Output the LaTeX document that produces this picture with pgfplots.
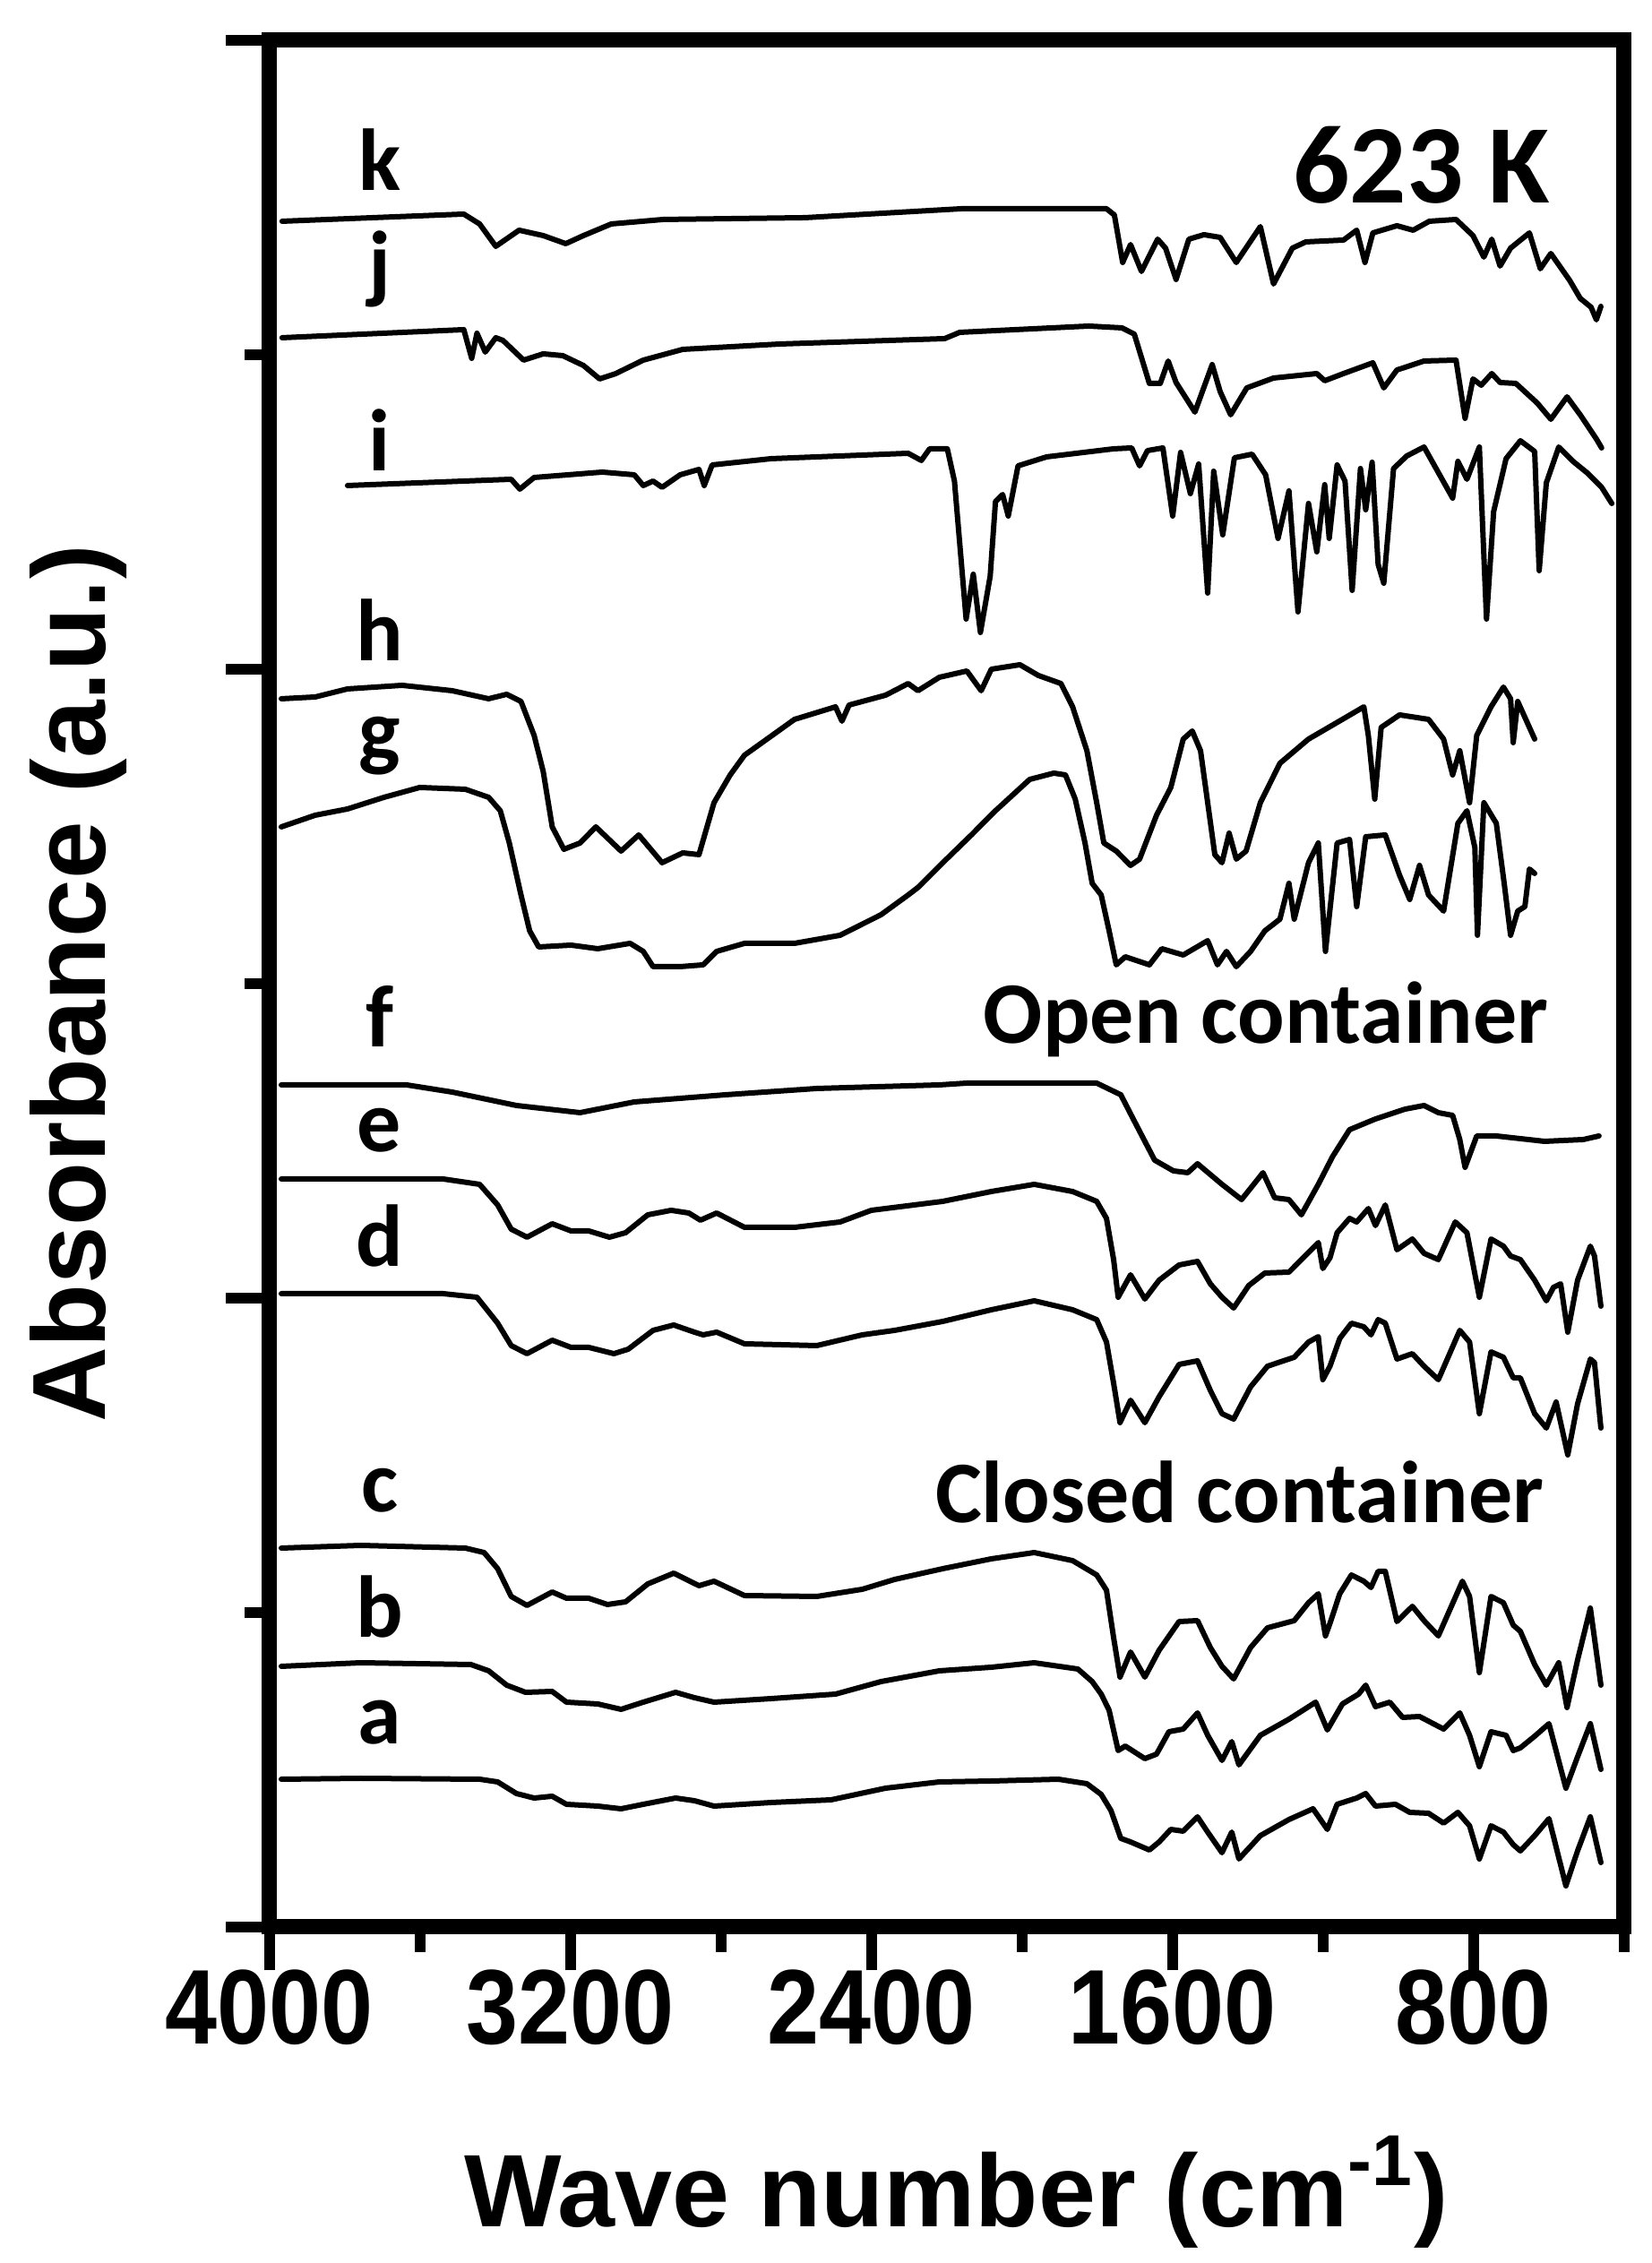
\documentclass[border=0pt]{standalone}
\usepackage{pgfplots}
\pgfplotsset{compat=1.18}
\usepackage{fontspec}
\setmainfont{Liberation Sans}
\newfontfamily\calfont{Carlito}
\newfontfamily\tickfont[FakeStretch=0.88]{Liberation Sans}
\tikzset{spec/.style={black, solid, line width=1.2pt, line join=round, line cap=round, mark=none}}
\begin{document}
\begin{tikzpicture}
\useasboundingbox (-60.2pt,-75pt) rectangle (308.6pt,430.2pt);
\begin{axis}[
  at={(0,0)}, anchor=south west,
  scale only axis, width=302.4pt, height=421.2pt,
  xmin=400, xmax=4000, x dir=reverse,
  ymin=0, ymax=2106,
  xtick={800,1600,2400,3200,4000},
  xticklabels={800,1600,2400,3200,4000},
  minor xtick={400,1200,2000,2800,3600},
  ytick={0,702,1404,2106},
  minor ytick={351,1053,1755},
  yticklabels={},
  tick align=outside,
  xtick pos=left, ytick pos=left,
  major tick length=9.7pt, minor tick length=5.6pt,
  major tick style={black, line width=2.4pt},
  minor tick style={black, line width=2.4pt},
  axis line style={line width=3.4pt},
  xticklabel style={font=\tickfont\bfseries\fontsize{23.7}{28}\selectfont, anchor=base, yshift=-16.4pt},
  clip=false,
]
% k
\addplot[spec] coordinates {(3967,1904)(3484,1912)(3442,1901)(3399,1876)(3337,1894)(3273,1888)(3213,1879)(3166,1888)(3092,1901)(2954,1906)(2577,1908)(2161,1918)(1776,1918)(1755,1911)(1733,1858)(1712,1878)(1683,1848)(1640,1884)(1619,1874)(1591,1839)(1557,1884)(1517,1889)(1474,1886)(1431,1858)(1367,1898)(1332,1834)(1282,1874)(1246,1881)(1146,1883)(1111,1894)(1089,1858)(1068,1891)(1004,1899)(961,1894)(918,1904)(847,1906)(802,1888)(773,1864)(752,1884)(730,1854)(702,1874)(652,1891)(623,1851)(595,1868)(545,1838)(517,1818)(488,1808)(474,1794)(462,1809)};
% j
\addplot[spec] coordinates {(3967,1774)(3484,1783)(3463,1751)(3449,1779)(3427,1758)(3399,1774)(3380,1771)(3325,1749)(3273,1756)(3221,1754)(3166,1743)(3123,1728)(3080,1734)(3007,1749)(2902,1761)(2643,1767)(2206,1773)(2166,1780)(1823,1787)(1735,1785)(1702,1778)(1662,1723)(1633,1723)(1612,1748)(1591,1724)(1541,1691)(1495,1744)(1474,1714)(1446,1688)(1403,1718)(1332,1729)(1217,1734)(1196,1726)(1146,1734)(1068,1746)(1039,1718)(1004,1738)(932,1748)(847,1749)(823,1684)(802,1728)(780,1721)(752,1734)(730,1724)(688,1723)(631,1701)(595,1683)(552,1708)(517,1688)(474,1661)(460,1651)};
% i
\addplot[spec] coordinates {(3793,1609)(3358,1616)(3335,1605)(3297,1618)(3116,1624)(3031,1621)(3007,1609)(2981,1614)(2957,1607)(2909,1621)(2859,1627)(2845,1609)(2824,1632)(2667,1639)(2303,1645)(2268,1637)(2246,1650)(2199,1650)(2180,1614)(2149,1460)(2130,1510)(2111,1445)(2085,1508)(2071,1591)(2052,1599)(2037,1575)(2011,1631)(1935,1641)(1757,1650)(1709,1651)(1688,1631)(1667,1648)(1626,1651)(1600,1575)(1579,1646)(1553,1600)(1531,1633)(1507,1489)(1491,1625)(1467,1554)(1436,1640)(1389,1644)(1353,1621)(1320,1550)(1291,1603)(1267,1468)(1239,1589)(1217,1535)(1196,1610)(1184,1550)(1163,1632)(1142,1614)(1123,1492)(1101,1628)(1087,1582)(1070,1635)(1054,1521)(1039,1500)(1013,1628)(978,1642)(932,1652)(856,1595)(842,1636)(818,1616)(785,1652)(766,1460)(747,1580)(714,1639)(676,1659)(638,1647)(626,1514)(607,1612)(574,1652)(536,1636)(498,1623)(460,1607)(433,1589)};
% h
\addplot[spec] coordinates {(3969,1371)(3879,1373)(3793,1382)(3648,1386)(3515,1380)(3418,1371)(3370,1376)(3332,1368)(3297,1330)(3273,1290)(3249,1228)(3218,1203)(3175,1210)(3133,1228)(3066,1201)(3019,1219)(2957,1188)(2902,1199)(2859,1197)(2819,1255)(2776,1286)(2738,1308)(2605,1348)(2496,1362)(2479,1346)(2460,1364)(2363,1375)(2303,1388)(2277,1380)(2220,1395)(2147,1402)(2109,1380)(2082,1404)(2006,1409)(1957,1397)(1897,1388)(1866,1362)(1828,1313)(1802,1255)(1783,1210)(1750,1201)(1712,1185)(1688,1192)(1643,1241)(1605,1272)(1572,1326)(1548,1335)(1526,1313)(1507,1255)(1488,1197)(1469,1188)(1450,1221)(1431,1192)(1405,1201)(1367,1255)(1315,1299)(1239,1326)(1149,1348)(1092,1362)(1080,1330)(1063,1259)(1046,1339)(997,1353)(920,1348)(880,1326)(856,1286)(837,1313)(811,1255)(792,1330)(754,1362)(721,1384)(702,1371)(695,1322)(683,1368)(638,1326)};
% g
\addplot[spec] coordinates {(3969,1228)(3879,1241)(3793,1248)(3696,1261)(3601,1272)(3480,1270)(3418,1261)(3387,1246)(3363,1210)(3332,1152)(3309,1112)(3285,1094)(3199,1096)(3128,1092)(3042,1098)(3007,1089)(2981,1072)(2909,1072)(2848,1074)(2812,1089)(2738,1098)(2605,1098)(2484,1107)(2375,1130)(2303,1152)(2275,1161)(2211,1188)(2135,1219)(2071,1246)(1980,1281)(1916,1288)(1885,1286)(1859,1259)(1833,1210)(1814,1165)(1790,1152)(1769,1112)(1750,1074)(1726,1083)(1662,1074)(1629,1092)(1572,1085)(1507,1101)(1481,1074)(1457,1089)(1431,1072)(1393,1089)(1355,1112)(1315,1125)(1291,1165)(1277,1125)(1239,1188)(1213,1210)(1194,1089)(1163,1210)(1130,1214)(1111,1139)(1087,1217)(1035,1219)(997,1174)(970,1147)(944,1185)(920,1152)(880,1134)(842,1232)(818,1246)(797,1205)(790,1107)(773,1255)(740,1232)(719,1165)(702,1107)(683,1134)(664,1139)(652,1181)(638,1176)};
% f
\addplot[spec] coordinates {(3969,940)(3636,940)(3515,932)(3344,917)(3175,909)(3031,921)(2788,929)(2546,936)(2220,940)(2147,942)(1802,942)(1738,929)(1700,898)(1648,856)(1598,844)(1560,842)(1534,852)(1469,829)(1417,812)(1360,842)(1329,814)(1291,812)(1258,795)(1213,829)(1175,860)(1130,890)(1061,902)(982,913)(932,917)(894,909)(856,906)(837,879)(823,848)(792,883)(740,883)(612,877)(509,879)(467,883)};
% e
\addplot[spec] coordinates {(3969,835)(3539,835)(3442,829)(3394,806)(3358,779)(3316,770)(3249,785)(3199,777)(3152,777)(3097,770)(3054,775)(2995,795)(2933,800)(2886,797)(2855,789)(2812,797)(2738,781)(2605,781)(2484,787)(2401,800)(2211,810)(2082,821)(1968,829)(1866,821)(1802,810)(1776,791)(1757,745)(1745,703)(1712,728)(1674,701)(1636,722)(1583,739)(1534,743)(1500,718)(1469,703)(1438,691)(1398,716)(1355,730)(1291,731)(1253,747)(1213,764)(1201,735)(1182,747)(1163,775)(1130,791)(1111,787)(1080,802)(1061,783)(1035,806)(1004,756)(963,768)(932,752)(894,745)(849,787)(818,775)(785,703)(754,768)(721,760)(702,749)(676,745)(638,722)(607,699)(588,714)(569,718)(550,664)(524,722)(490,760)(479,749)(462,693)};
% d
\addplot[spec] coordinates {(3969,707)(3539,707)(3449,703)(3394,674)(3358,649)(3316,640)(3249,655)(3199,647)(3152,647)(3085,640)(3047,645)(2981,666)(2926,672)(2871,664)(2848,661)(2812,664)(2738,651)(2546,649)(2425,661)(2339,666)(2211,676)(2082,689)(1968,699)(1866,689)(1802,678)(1776,653)(1757,607)(1740,563)(1712,588)(1674,563)(1636,592)(1583,628)(1534,632)(1500,599)(1469,573)(1438,567)(1393,603)(1348,626)(1277,636)(1239,653)(1213,659)(1201,611)(1182,626)(1156,657)(1125,674)(1092,670)(1073,661)(1054,678)(1035,674)(1004,634)(963,640)(932,626)(894,611)(837,666)(811,653)(785,573)(754,642)(721,636)(695,613)(676,613)(638,573)(607,557)(581,586)(550,527)(524,584)(490,634)(479,630)(462,557)};
% c
\addplot[spec] coordinates {(3969,423)(3758,426)(3480,423)(3430,418)(3394,400)(3358,369)(3316,359)(3249,374)(3211,367)(3152,367)(3102,360)(3054,363)(2995,383)(2926,395)(2859,381)(2819,386)(2738,370)(2546,369)(2425,377)(2339,388)(2211,400)(2082,411)(1968,418)(1866,409)(1802,393)(1776,376)(1757,323)(1740,279)(1712,307)(1674,279)(1636,309)(1583,341)(1534,342)(1500,312)(1469,291)(1438,277)(1393,312)(1348,334)(1277,342)(1239,362)(1213,372)(1194,325)(1182,339)(1156,372)(1125,393)(1092,386)(1073,379)(1054,397)(1035,397)(1004,341)(963,358)(932,342)(894,325)(830,386)(811,369)(785,284)(754,369)(721,362)(695,337)(676,330)(638,293)(607,270)(574,295)(552,245)(524,298)(490,356)(462,270)};
% b
\addplot[spec] coordinates {(3969,291)(3758,295)(3465,293)(3418,286)(3370,270)(3320,262)(3249,263)(3211,251)(3128,249)(3066,243)(3007,251)(2921,262)(2871,256)(2819,251)(2667,255)(2496,260)(2375,274)(2220,286)(2082,290)(1968,295)(1852,288)(1814,274)(1790,260)(1769,242)(1745,197)(1726,202)(1674,188)(1643,193)(1610,218)(1572,221)(1534,239)(1507,214)(1469,186)(1443,207)(1424,181)(1367,214)(1291,232)(1220,251)(1189,220)(1149,249)(1106,260)(1087,270)(1061,246)(1023,251)(989,234)(944,235)(880,221)(837,239)(811,214)(785,179)(754,218)(714,214)(695,197)(676,200)(638,213)(600,227)(555,155)(524,190)(490,227)(462,176)};
% a
\addplot[spec] coordinates {(3969,165)(3758,166)(3442,165)(3394,162)(3344,149)(3297,144)(3249,146)(3211,137)(3128,135)(3066,132)(3007,137)(2921,144)(2871,141)(2819,135)(2667,139)(2508,142)(2363,155)(2220,162)(2082,163)(1904,165)(1828,160)(1790,148)(1764,130)(1738,99)(1712,95)(1662,86)(1636,95)(1605,109)(1572,107)(1534,123)(1507,106)(1469,83)(1443,106)(1424,76)(1367,102)(1291,120)(1227,132)(1189,109)(1163,137)(1111,144)(1087,149)(1061,135)(1008,137)(970,128)(920,127)(880,116)(842,128)(811,113)(785,76)(754,113)(721,106)(695,92)(676,85)(638,102)(600,121)(555,46)(524,85)(490,123)(462,72)};

\begin{scope}[every node/.style={anchor=base, inner sep=0pt, font=\calfont\bfseries\fontsize{19.6}{24}\selectfont}]
\node at (axis cs:3708,1938) {k};
\node at (axis cs:3708,1824) {j};
\node at (axis cs:3708,1625) {i};
\node at (axis cs:3708,1413) {h};
\node at (axis cs:3708,1302) {g};
\node at (axis cs:3708,982) {f};
\node at (axis cs:3708,865) {e};
\node at (axis cs:3708,737) {d};
\node at (axis cs:3708,463) {c};
\node at (axis cs:3708,323) {b};
\node at (axis cs:3708,204) {a};
\node[anchor=base east] at (axis cs:600,986) {Open container};
\node[anchor=base east] at (axis cs:612,451) {Closed container};
\node[anchor=base east, font=\calfont\bfseries\fontsize{25}{30}\selectfont] at (axis cs:595,1924) {623 K};
\end{scope}
\node[rotate=90, anchor=base, inner sep=0pt, font=\bfseries\fontsize{23.2}{28}\selectfont] at ([xshift=-36.6pt]axis description cs:0,0.5) {Absorbance (a.u.)};
\node[anchor=base, inner sep=0pt, font=\bfseries\fontsize{23}{28}\selectfont] at ([yshift=-66.8pt]axis description cs:0.507,0) {Wave number (cm\textsuperscript{-1})};
\end{axis}
\end{tikzpicture}
\end{document}
